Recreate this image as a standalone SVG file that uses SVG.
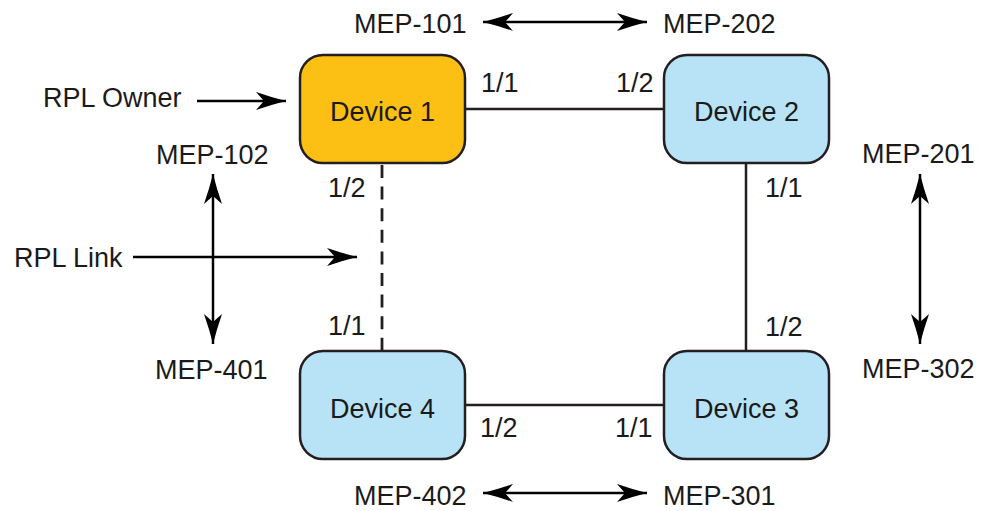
<svg xmlns="http://www.w3.org/2000/svg" width="982" height="511" viewBox="0 0 982 511">
<defs>
<style>
text{font-family:"Liberation Sans",Arial,sans-serif;font-size:27px;fill:#1a1a1a}
.dev{stroke:#231f20;stroke-width:2.5}
.d1{fill:#fcbf14}
.d2{fill:#b8e3f7}
.link{stroke:#231f20;stroke-width:2.5;fill:none}
.dash{stroke-dasharray:13 8.6;stroke-width:2.8}
.arr{stroke:#000;stroke-width:2.5;fill:none;marker-end:url(#ah)}
.arr2{stroke:#000;stroke-width:2.5;fill:none;marker-end:url(#ah);marker-start:url(#ahs)}
.lbl{text-anchor:middle}
</style>
<marker id="ah" markerUnits="userSpaceOnUse" markerWidth="40" markerHeight="24" viewBox="-32 -12 34 24" refX="0" refY="0" orient="auto">
<path d="M0,0 Q-14,-3.5 -30,-9 L-22,0 L-30,9 Q-14,3.5 0,0 Z" fill="#000"/>
</marker>
<marker id="ahs" markerUnits="userSpaceOnUse" markerWidth="40" markerHeight="24" viewBox="-32 -12 34 24" refX="0" refY="0" orient="auto-start-reverse">
<path d="M0,0 Q-14,-3.5 -30,-9 L-22,0 L-30,9 Q-14,3.5 0,0 Z" fill="#000"/>
</marker>
</defs>
<rect width="982" height="511" fill="#fff"/>
<g id="connectors">
<line class="link" x1="465" y1="109" x2="664" y2="109"/>
<line class="link" x1="746" y1="163" x2="746" y2="351"/>
<line class="link" x1="465" y1="405" x2="664" y2="405"/>
<line class="link dash" x1="382" y1="165" x2="382" y2="351"/>
<line class="arr2" x1="483" y1="22" x2="647" y2="22"/>
<line class="arr2" x1="483" y1="493" x2="647" y2="493"/>
<line class="arr2" x1="213" y1="174" x2="213" y2="344"/>
<line class="arr2" x1="920" y1="174" x2="920" y2="344"/>
<line class="arr" x1="197" y1="101" x2="286" y2="101"/>
<line class="arr" x1="133" y1="257" x2="357" y2="257"/>
</g>
<g id="device1">
<rect class="dev d1" x="300" y="55" width="165" height="108" rx="23"/>
<text class="lbl" x="382.5" y="121">Device 1</text>
</g>
<g id="device2">
<rect class="dev d2" x="664" y="55" width="165" height="108" rx="23"/>
<text class="lbl" x="746.5" y="121">Device 2</text>
</g>
<g id="device3">
<rect class="dev d2" x="664" y="351" width="165" height="108" rx="23"/>
<text class="lbl" x="746.5" y="418">Device 3</text>
</g>
<g id="device4">
<rect class="dev d2" x="300" y="351" width="165" height="108" rx="23"/>
<text class="lbl" x="382.5" y="418">Device 4</text>
</g>
<g id="labels">
<text x="354" y="33">MEP-101</text>
<text x="663" y="33">MEP-202</text>
<text x="43" y="107">RPL Owner</text>
<text x="481" y="92">1/1</text>
<text x="616" y="92">1/2</text>
<text x="156" y="164">MEP-102</text>
<text x="328" y="197">1/2</text>
<text x="862" y="163">MEP-201</text>
<text x="765" y="197">1/1</text>
<text x="14" y="267">RPL Link</text>
<text x="328" y="335">1/1</text>
<text x="765" y="336">1/2</text>
<text x="155" y="379">MEP-401</text>
<text x="862" y="378">MEP-302</text>
<text x="480" y="437">1/2</text>
<text x="615" y="437">1/1</text>
<text x="354" y="505">MEP-402</text>
<text x="663" y="505">MEP-301</text>
</g>
</svg>
